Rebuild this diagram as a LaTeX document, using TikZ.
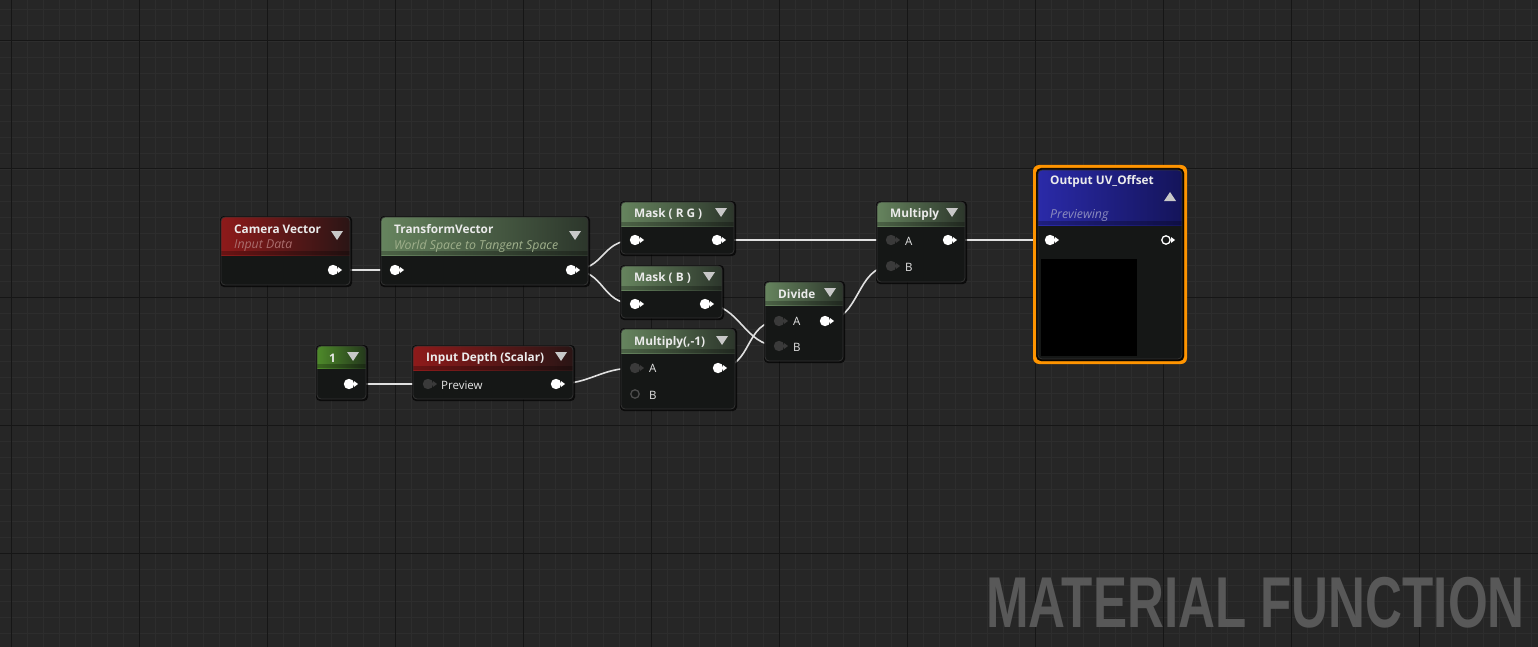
\documentclass[tikz,border=0pt]{standalone}
\usepackage{fontspec}
\setmainfont{Open Sans}
\newfontfamily\bigfont{Liberation Sans}
\definecolor{bg}{HTML}{262626}
\definecolor{gmin}{HTML}{2D2D2D}
\definecolor{gmaj}{HTML}{161616}
\definecolor{body}{HTML}{151716}
\definecolor{pind}{HTML}{3A3A3A}
\definecolor{dd}{HTML}{C8C8C8}
\definecolor{gL}{HTML}{66845E}
\definecolor{gR}{HTML}{2C362B}
\definecolor{rL}{HTML}{8E1A1A}
\definecolor{rR}{HTML}{2A1515}
\definecolor{oneL}{HTML}{4E8A2A}
\definecolor{oneR}{HTML}{24381C}
\definecolor{bL}{HTML}{2A2AA8}
\definecolor{bR}{HTML}{14145A}
\tikzset{
  wire/.style={draw=white!88!black, line width=1.6pt},
  ttl/.style={anchor=west, inner sep=0, font=\fontsize{11.8}{11.8}\selectfont\bfseries, text=white!92!black},
  sub/.style={anchor=west, inner sep=0, font=\fontsize{12.3}{12.3}\selectfont\itshape},
  lbl/.style={anchor=west, inner sep=0, font=\fontsize{11.5}{11.5}\selectfont, text=white!90!black},
}
\newcommand\uenode[7]{%
  \fill[black, rounded corners=4pt, opacity=0.7] (#1-1,#2-1) rectangle (#3+2,#4+2);
  \begin{scope}
    \clip[rounded corners=4pt] (#1,#2) rectangle (#3,#4);
    \fill[body] (#1,#2) rectangle (#3,#4);
    \shade[left color=#6, right color=#7] (#1,#2) rectangle (#3,#5);
    \fill[black, opacity=0.25] (#1,#5-4) rectangle (#3,#5);
  \end{scope}
  \draw[black!80, rounded corners=4pt, line width=0.8pt] (#1,#2) rectangle (#3,#4);}
\newcommand\dd[2]{\fill[dd] (#1-6,#2-4) -- (#1+6,#2-4) -- (#1,#2+5) -- cycle;}
\newcommand\pinw[1]{\fill[white] (#1) circle (5.2); \fill[white] ($(#1)+(5,3)$) -- ($(#1)+(9,0)$) -- ($(#1)+(5,-3)$) -- cycle;}
\newcommand\pind[1]{\fill[pind] (#1) circle (5.2); \fill[pind] ($(#1)+(5,3)$) -- ($(#1)+(9,0)$) -- ($(#1)+(5,-3)$) -- cycle;}
\newcommand\wireab[2]{\draw[wire] (#1) .. controls ($(#1)+(35,0)$) and ($(#2)-(35,0)$) .. (#2);}
\usetikzlibrary{calc}
\begin{document}
\begin{tikzpicture}[x=1pt,y=-1pt]
\useasboundingbox (0,0) rectangle (1538,647);
\fill[bg] (0,0) rectangle (1538,647);
\foreach \x in {-5,11,...,1538} \draw[gmin, line width=0.8pt] (\x,0) -- (\x,647);
\foreach \y in {9,25,...,647} \draw[gmin, line width=0.8pt] (0,\y) -- (1538,\y);
\foreach \x in {11,139,...,1538} \draw[gmaj, line width=1pt] (\x,0) -- (\x,647);
\foreach \y in {41,169,...,647} \draw[gmaj, line width=1pt] (0,\y) -- (1538,\y);

\coordinate (cam-o) at (333,270);
\coordinate (tv-i) at (395,270);
\coordinate (tv-o) at (571,270);
\coordinate (rg-i) at (635,240);
\coordinate (rg-o) at (717,240);
\coordinate (b-i) at (635,304);
\coordinate (b-o) at (705,304);
\coordinate (m1-a) at (635,368);
\coordinate (m1-b) at (635,394);
\coordinate (m1-o) at (718,368);
\coordinate (one-o) at (349,384);
\coordinate (id-i) at (428,384);
\coordinate (id-o) at (556,384);
\coordinate (dv-a) at (779,321);
\coordinate (dv-b) at (779,346);
\coordinate (dv-o) at (825,321);
\coordinate (mu-a) at (891,240);
\coordinate (mu-b) at (891,266);
\coordinate (mu-o) at (948,240);
\coordinate (out-i) at (1050,240);
\coordinate (out-o) at (1166,240);

\wireab{cam-o}{tv-i}
\wireab{tv-o}{rg-i}
\wireab{tv-o}{b-i}
\wireab{one-o}{id-i}
\wireab{id-o}{m1-a}
\wireab{b-o}{dv-b}
\wireab{m1-o}{dv-a}
\wireab{dv-o}{mu-b}
\wireab{rg-o}{mu-a}
\wireab{mu-o}{out-i}

\uenode{221}{217}{350}{285}{255}{rL}{rR}
\node[ttl] (camt) at (234,229) {Camera Vector};
\node[sub, text={rgb,255:red,170;green,110;blue,110}] (cams) at (234,246) {Input Data};
\dd{337}{235}

\uenode{381}{217}{588}{285}{255}{gL}{gR}
\node[ttl] (tvt) at (394,229) {TransformVector};
\node[sub, text={rgb,255:red,160;green,176;blue,140}] (tvs) at (394,246) {World Space to Tangent Space};
\dd{575}{235}

\uenode{621}{202}{734}{254}{226}{gL}{gR}
\node[ttl] (rgt) at (634,214) {Mask ( R G )};
\dd{721}{212}

\uenode{621}{266}{722}{318}{290}{gL}{gR}
\node[ttl] (bt) at (634,278) {Mask ( B )};
\dd{709}{276}

\uenode{621}{329}{735}{409}{353}{gL}{gR}
\node[ttl] (m1t) at (634,342) {Multiply(,-1)};
\dd{722}{340}
\node[lbl] (m1la) at (649,368) {A};
\node[lbl] (m1lb) at (649,395) {B};

\uenode{317}{346}{366}{399}{368}{oneL}{oneR}
\node[ttl] (onet) at (329,358) {1};
\dd{353}{356}

\uenode{413}{346}{573}{399}{370}{rL}{rR}
\node[ttl] (idt) at (426,358) {Input Depth (Scalar)};
\dd{561}{356}
\node[lbl] (idl) at (441,385) {Preview};

\uenode{765}{282}{843}{361}{305}{gL}{gR}
\node[ttl] (dvt) at (778,294) {Divide};
\dd{830}{292}
\node[lbl] (dvla) at (793,321) {A};
\node[lbl] (dvlb) at (793,347) {B};

\uenode{877}{202}{965}{282}{226}{gL}{gR}
\node[ttl] (mut) at (890,214) {Multiply};
\dd{952}{212}
\node[lbl] (mula) at (905,241) {A};
\node[lbl] (mulb) at (905,267) {B};

\fill[orange!80!red!70!yellow, rounded corners=6pt] (1033,165) rectangle (1187,364);
\fill[black, rounded corners=5pt, opacity=0.9] (1036,168) rectangle (1184,361);
\uenode{1038}{170}{1182}{359}{225}{bL}{bR}
\node[ttl] (outt) at (1050,181) {Output UV\_Offset};
\node[sub, text={rgb,255:red,140;green,140;blue,190}] (outs) at (1050,215) {Previewing};
\fill[dd] (1164,201) -- (1176,201) -- (1170,192) -- cycle;
\fill[black] (1041,259) rectangle (1137,356);

\pinw{cam-o}\pinw{tv-i}\pinw{tv-o}\pinw{rg-i}\pinw{rg-o}\pinw{b-i}\pinw{b-o}
\pind{m1-a}\pinw{m1-o}\pinw{one-o}\pind{id-i}\pinw{id-o}
\pind{dv-a}\pind{dv-b}\pinw{dv-o}\pind{mu-a}\pind{mu-b}\pinw{mu-o}\pinw{out-i}
\draw[black!70!white, line width=1.3pt] (m1-b) circle (4.2);
\draw[white, line width=1.3pt] (out-o) circle (4.2);
\fill[white] ($(out-o)+(5,3)$) -- ($(out-o)+(9,0)$) -- ($(out-o)+(5,-3)$) -- cycle;

\node[anchor=base east, inner sep=0, text={rgb,255:red,88;green,88;blue,88}] (mf) at (1525,627)
  {\scalebox{0.71}[1]{\bigfont\fontsize{72}{72}\selectfont\bfseries MATERIAL FUNCTION}};
\end{tikzpicture}
\end{document}
